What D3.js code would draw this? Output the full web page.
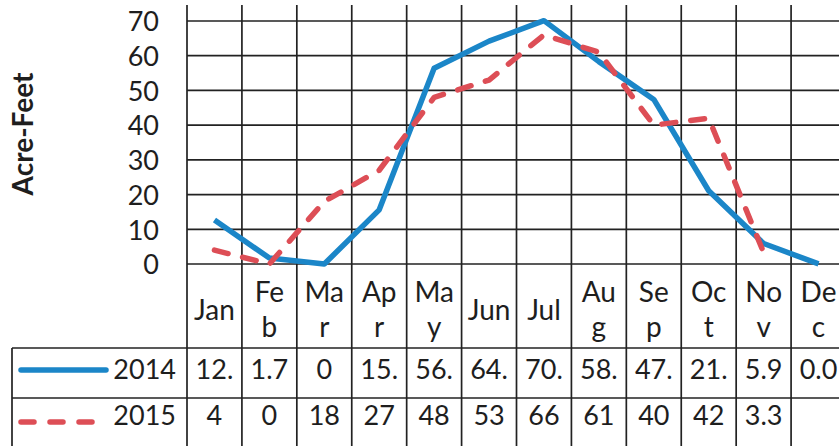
<!DOCTYPE html>
<html>
<head>
<meta charset="utf-8">
<script src="https://cdn.jsdelivr.net/npm/d3@7"></script>
<style>
  html, body { margin: 0; padding: 0; background: #fff; }
  svg { display: block; }
  text { font-family: Lato, "Open Sans", sans-serif; fill: #1e1e1e; }
</style>
</head>
<body>
<svg id="chart" width="839" height="446"></svg>
<script>
// Monthly volumes, acre-feet
const months = ["Jan", "Feb", "Mar", "Apr", "May", "Jun", "Jul", "Aug", "Sep", "Oct", "Nov", "Dec"];
const series2014 = [12.7, 1.7, 0, 15.6, 56.4, 64.2, 70.1, 58.3, 47.4, 21.1, 5.9, 0.04];
const series2015 = [4, 0, 18, 27, 48, 53, 66, 61, 40, 42, 3.3, null];
const seriesNames = ["2014", "2015"];
const yTicks = [0, 10, 20, 30, 40, 50, 60, 70];
// Month names that fit on one line in a table header cell
const oneLineMonths = ["Jan", "Jun", "Jul"];

const svg = d3.select("#chart");

const plotLeft = 187, plotRight = 846, plotTop = 5;
const y0 = 264, y70 = 21;
const headerBottom = 348, row1Bottom = 398, row2Bottom = 447;
const tableLeft = 12;

const x = d3.scaleBand().domain(months).range([plotLeft, plotRight]).padding(0);
const y = d3.scaleLinear().domain([0, 70]).range([y0, y70]);

const gridColor = "#222";
const blue = "#1b86c8";
const red = "#dd4e56";

// Horizontal gridlines
svg.append("g").selectAll("line").data(yTicks).join("line")
  .attr("x1", plotLeft).attr("x2", plotRight)
  .attr("y1", d => y(d)).attr("y2", d => y(d))
  .attr("stroke", gridColor).attr("stroke-width", 1.7);

// Vertical lines: category boundaries running through plot and data table
const bounds = months.map(m => x(m)).concat([plotRight]);
svg.append("g").selectAll("line").data(bounds).join("line")
  .attr("x1", d => d).attr("x2", d => d)
  .attr("y1", plotTop).attr("y2", row2Bottom)
  .attr("stroke", gridColor).attr("stroke-width", 1.7);

// Table row rules and legend box edge
[headerBottom, row1Bottom, row2Bottom].forEach(yy => {
  svg.append("line").attr("x1", tableLeft).attr("x2", plotRight)
    .attr("y1", yy).attr("y2", yy)
    .attr("stroke", gridColor).attr("stroke-width", 1.7);
});
svg.append("line").attr("x1", tableLeft).attr("x2", tableLeft)
  .attr("y1", headerBottom).attr("y2", row2Bottom)
  .attr("stroke", gridColor).attr("stroke-width", 1.7);

// Y axis tick labels
const yAxis = d3.axisLeft(y).tickValues(yTicks).tickSize(0).tickPadding(0).tickFormat(d3.format("d"));
const ya = svg.append("g").attr("transform", `translate(159,0)`).call(yAxis);
ya.select(".domain").remove();
ya.selectAll("text").attr("font-size", 27).attr("font-family", "Lato, 'Open Sans', sans-serif")
  .attr("fill", "#1e1e1e").attr("dy", "0.36em");

// Y axis title
svg.append("text")
  .attr("transform", `translate(33,134) rotate(-90)`)
  .attr("text-anchor", "middle")
  .attr("font-size", 28).attr("font-weight", "bold")
  .text("Acre-Feet");

// Lines
const cx = m => x(m) + x.bandwidth() / 2;
const line = d3.line()
  .defined(d => d.v != null)
  .x(d => cx(d.m)).y(d => y(d.v));

svg.append("path")
  .datum(months.map((m, i) => ({ m, v: series2014[i] })))
  .attr("d", line).attr("fill", "none")
  .attr("stroke", blue).attr("stroke-width", 5.5)
  .attr("stroke-linejoin", "round");

svg.append("path")
  .datum(months.map((m, i) => ({ m, v: series2015[i] })))
  .attr("d", line).attr("fill", "none")
  .attr("stroke", red).attr("stroke-width", 5.5)
  .attr("stroke-linecap", "round").attr("stroke-linejoin", "round")
  .attr("stroke-dasharray", "14,15");

// Table header: month names, wrapped when too long for the cell
const headerLines = m => oneLineMonths.includes(m) ? [m] : [m.slice(0, 2), m.slice(2)];
const hdr = svg.append("g").selectAll("text").data(months).join("text")
  .attr("text-anchor", "middle").attr("font-size", 28);
hdr.each(function (m) {
  const lines = headerLines(m);
  const t = d3.select(this);
  const baselines = lines.length === 1 ? [320] : [302, 337];
  lines.forEach((ln, k) => {
    t.append("tspan").attr("x", cx(m)).attr("y", baselines[k]).text(ln);
  });
});

// Table value cells; text is clipped to the cell width
const cellText = v => v == null ? "" : String(v).slice(0, 3);
const rows = [
  { values: series2014, baseline: 379 },
  { values: series2015, baseline: 425 }
];
rows.forEach(r => {
  svg.append("g").selectAll("text").data(months).join("text")
    .attr("x", m => cx(m)).attr("y", r.baseline)
    .attr("text-anchor", "middle").attr("font-size", 27)
    .text((m, i) => cellText(r.values[i]));
});

// Legend keys inside the table
svg.append("line").attr("x1", 21).attr("x2", 106).attr("y1", 370).attr("y2", 370)
  .attr("stroke", blue).attr("stroke-width", 5.5).attr("stroke-linecap", "round");
svg.append("line").attr("x1", 21).attr("x2", 96).attr("y1", 422).attr("y2", 422)
  .attr("stroke", red).attr("stroke-width", 5.5).attr("stroke-linecap", "round")
  .attr("stroke-dasharray", "13,16");

svg.append("g").selectAll("text").data(seriesNames).join("text")
  .attr("x", 176).attr("y", (d, i) => rows[i].baseline)
  .attr("text-anchor", "end").attr("font-size", 27)
  .text(d => d);
</script>
</body>
</html>
